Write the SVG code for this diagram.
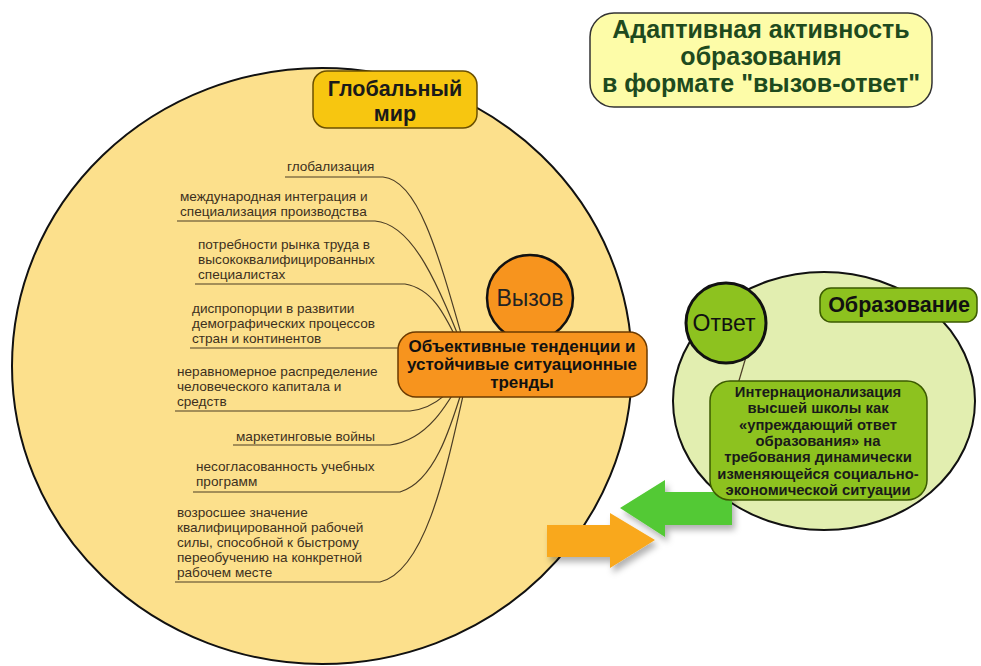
<svg xmlns="http://www.w3.org/2000/svg" width="981" height="666" viewBox="0 0 981 666">
<defs>
<style>
.lbl{font-family:"Liberation Sans",Arial,sans-serif;font-size:13.6px;fill:#3d3020}
.fan{fill:none;stroke:#4a3c25;stroke-width:1.2}
.b{font-family:"Liberation Sans",Arial,sans-serif;font-weight:bold;text-anchor:middle}
.n{font-family:"Liberation Sans",Arial,sans-serif;text-anchor:middle}
</style>
<filter id="sh" x="-20%" y="-20%" width="150%" height="160%">
<feDropShadow dx="3" dy="5" stdDeviation="3" flood-color="#000" flood-opacity="0.3"/>
</filter>
</defs>
<rect width="981" height="666" fill="#ffffff"/>

<g id="global-circle">
<ellipse cx="322" cy="366" rx="310" ry="298" fill="#FCE08C" stroke="#111" stroke-width="2"/>
</g>

<g id="education-circle">
<ellipse cx="824" cy="401" rx="151" ry="129" fill="#E2EEB0" stroke="#111" stroke-width="2"/>
</g>

<g id="connectors">
<path class="fan" d="M285,177 H383 C420,180 440,260 470,365"/>
<path class="fan" d="M177,221 H375 C415,224 440,290 470,365"/>
<path class="fan" d="M195,284 H405 C440,290 450,330 470,365"/>
<path class="fan" d="M190,348 H400 C440,350 450,360 470,365"/>
<path class="fan" d="M175,411 H410 C440,408 455,385 470,365"/>
<path class="fan" d="M233,445 H390 C430,440 450,400 470,365"/>
<path class="fan" d="M193,492 H400 C440,480 455,410 470,365"/>
<path class="fan" d="M175,582 H380 C430,570 450,450 470,365"/>
<path class="fan" d="M748,350 L738,384"/>
</g>

<g id="labels">
<text class="lbl" x="287" y="171">глобализация</text>
<text class="lbl" x="180" y="201">международная интеграция и</text>
<text class="lbl" x="180" y="216">специализация производства</text>
<text class="lbl" x="198" y="249">потребности рынка труда в</text>
<text class="lbl" x="198" y="264">высококвалифицированных</text>
<text class="lbl" x="198" y="279">специалистах</text>
<text class="lbl" x="192" y="313">диспропорции в развитии</text>
<text class="lbl" x="192" y="328">демографических процессов</text>
<text class="lbl" x="192" y="343">стран и континентов</text>
<text class="lbl" x="177" y="376">неравномерное распределение</text>
<text class="lbl" x="177" y="391">человеческого капитала и</text>
<text class="lbl" x="177" y="406">средств</text>
<text class="lbl" x="236" y="441">маркетинговые войны</text>
<text class="lbl" x="196" y="471">несогласованность учебных</text>
<text class="lbl" x="196" y="486">программ</text>
<text class="lbl" x="177" y="517">возросшее значение</text>
<text class="lbl" x="177" y="532">квалифицированной рабочей</text>
<text class="lbl" x="177" y="547">силы, способной к быстрому</text>
<text class="lbl" x="177" y="562">переобучению на конкретной</text>
<text class="lbl" x="177" y="577">рабочем месте</text>
</g>

<g id="title">
<rect x="590" y="13" width="342" height="94" rx="24" fill="#FDFCA8" stroke="#333" stroke-width="1.5"/>
<text class="b" x="761" y="38" font-size="25" fill="#1E4A1E">Адаптивная активность</text>
<text class="b" x="761" y="65" font-size="25" fill="#1E4A1E">образования</text>
<text class="b" x="761" y="92" font-size="25" fill="#1E4A1E">в формате "вызов-ответ"</text>
</g>

<g id="global-world">
<rect x="313" y="71" width="164" height="57" rx="14" fill="#F7C610" stroke="#6b5000" stroke-width="1.5"/>
<text class="b" x="395" y="96" font-size="21.5" fill="#1a1a1a">Глобальный</text>
<text class="b" x="395" y="121" font-size="21.5" fill="#1a1a1a">мир</text>
</g>

<g id="challenge">
<circle cx="530" cy="298" r="43" fill="#F7941E" stroke="#111" stroke-width="2.5"/>
<text class="n" x="530" y="306" font-size="23" fill="#222">Вызов</text>
</g>

<g id="trends">
<rect x="398" y="332" width="249" height="65" rx="18" fill="#F7941E" stroke="#6b3a00" stroke-width="1.5"/>
<text class="b" x="522" y="352" font-size="17" fill="#111">Объективные тенденции и</text>
<text class="b" x="522" y="370" font-size="17" fill="#111">устойчивые ситуационные</text>
<text class="b" x="522" y="388" font-size="17" fill="#111">тренды</text>
</g>

<g id="response">
<circle cx="726" cy="323" r="40" fill="#8DC21F" stroke="#111" stroke-width="3"/>
<text class="n" x="724" y="331" font-size="23" fill="#111">Ответ</text>
</g>

<g id="education">
<rect x="820" y="288" width="157" height="34" rx="11" fill="#8DC21F" stroke="#3b5a00" stroke-width="1.5"/>
<text class="b" x="899" y="312" font-size="21.5" fill="#111">Образование</text>
</g>

<g id="arrow-response">
<polygon points="620,508 665,480 665,492 732,492 732,525 665,525 665,537" fill="#52C934" filter="url(#sh)"/>
</g>

<g id="internationalization">
<rect x="710" y="381" width="217" height="119" rx="20" fill="#8DC21F" stroke="#3b5a00" stroke-width="1.5"/>
<text class="b" x="818" y="397" font-size="14.8" fill="#1a1a1a">Интернационализация</text>
<text class="b" x="818" y="413.3" font-size="14.8" fill="#1a1a1a">высшей школы как</text>
<text class="b" x="818" y="429.6" font-size="14.8" fill="#1a1a1a">«упреждающий ответ</text>
<text class="b" x="818" y="445.9" font-size="14.8" fill="#1a1a1a">образования» на</text>
<text class="b" x="818" y="462.2" font-size="14.8" fill="#1a1a1a">требования динамически</text>
<text class="b" x="818" y="478.5" font-size="14.8" fill="#1a1a1a">изменяющейся социально-</text>
<text class="b" x="818" y="494.8" font-size="14.8" fill="#1a1a1a">экономической ситуации</text>
</g>

<g id="arrow-challenge">
<polygon points="547,525 610,525 610,513 655,540 610,568 610,557 547,557" fill="#F9A81A" filter="url(#sh)"/>
</g>
</svg>
